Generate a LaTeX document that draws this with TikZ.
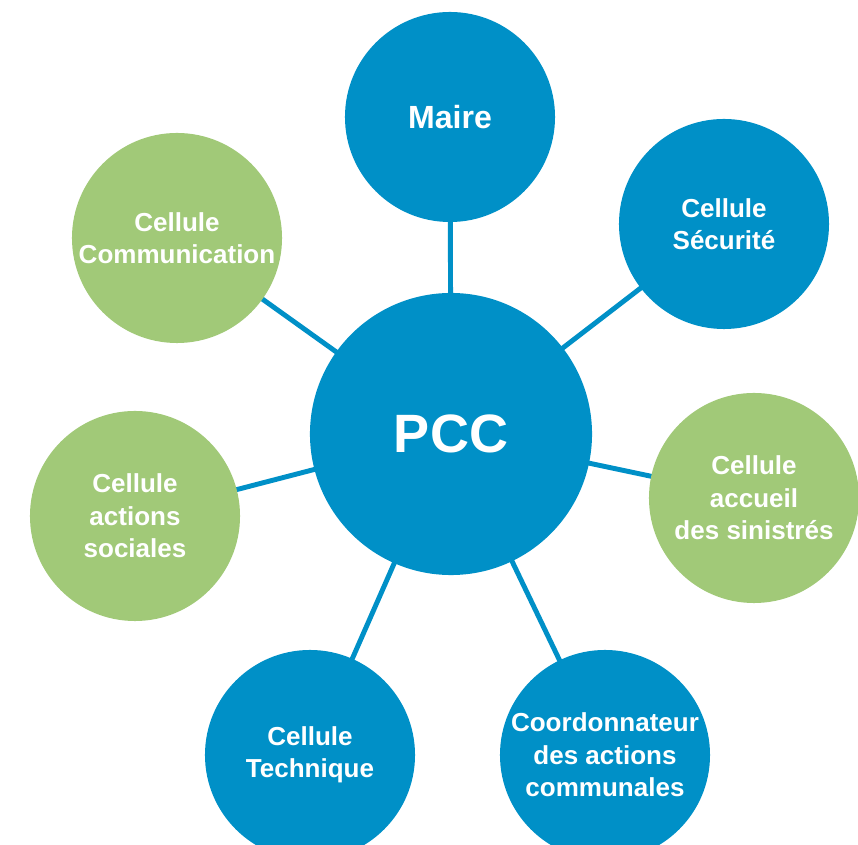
\documentclass[tikz,border=0pt]{standalone}
\usepackage{fontspec}
\setmainfont{Liberation Sans}
\usetikzlibrary{backgrounds}
\definecolor{pccblue}{RGB}{0,144,199}
\definecolor{pccgreen}{RGB}{161,201,120}
\begin{document}
\begin{tikzpicture}[x=0.025cm,y=-0.025cm,
    cell/.style={circle,inner sep=0pt,minimum size=5.25cm,align=center,text=white,
      font=\fontsize{18.5}{23.1}\selectfont\bfseries},
    bluecell/.style={cell,fill=pccblue},
    greencell/.style={cell,fill=pccgreen},
    link/.style={draw=pccblue,line width=3.5pt}]
    \useasboundingbox (0,0) rectangle (858,845);
    \clip (0,0) rectangle (858,845);
    \node [bluecell,minimum size=7.05cm,font=\fontsize{38.4}{46}\selectfont\bfseries] (pcc) at (451,434) {PCC};
    \node [bluecell,font=\fontsize{22.8}{27}\selectfont\bfseries] (maire) at (450,117) {Maire};
    \node [bluecell] (securite) at (724,224) {Cellule\\Sécurité};
    \node [greencell] (accueil) at (754,498) {Cellule\\accueil\\des sinistrés};
    \node [bluecell] (coord) at (605,755) {Coordonnateur\\des actions\\communales};
    \node [bluecell] (technique) at (310,755) {Cellule\\Technique};
    \node [greencell] (sociales) at (135,516) {Cellule\\actions\\sociales};
    \node [greencell] (comm) at (177,238) {Cellule\\Communication};
    \begin{scope}[on background layer]
      \foreach \cel in {maire,securite,accueil,coord,technique,sociales,comm}
        \draw [link] (pcc.center) -- (\cel.center);
    \end{scope}
\end{tikzpicture}
\end{document}
